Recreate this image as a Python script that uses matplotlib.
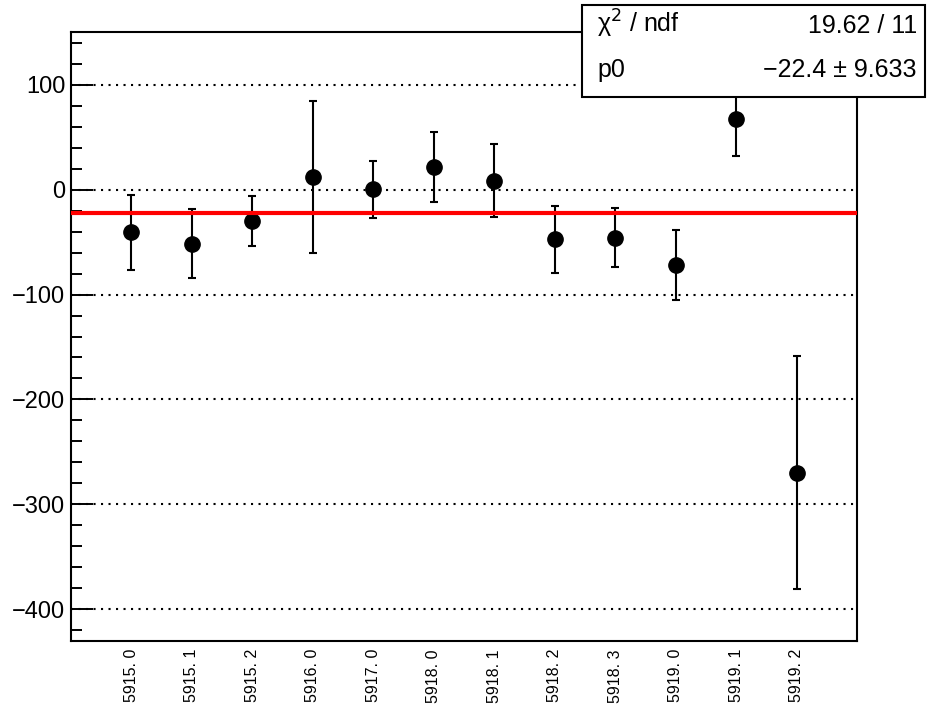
import numpy as np
import matplotlib.pyplot as plt
from matplotlib.patches import Rectangle

plt.rcParams['font.family'] = ['Liberation Sans', 'DejaVu Sans']

# run labels and measured values
runs = ["5915. 0", "5915. 1", "5915. 2", "5916. 0", "5917. 0", "5918. 0",
        "5918. 1", "5918. 2", "5918. 3", "5919. 0", "5919. 1", "5919. 2"]
values = [-40.6, -51.4, -29.8, 12.1, 0.3, 21.3, 8.6, -47.3, -46.0, -72.0, 67.3, -270.0]
errors = [35.7, 32.5, 23.5, 72.2, 27.2, 33.3, 34.9, 31.9, 28.1, 33.2, 35.2, 111.1]
p0 = -22.4
stat_names = ["\u03c7$^2$ / ndf", "p0"]
stat_values = ["19.62 / 11", "\u221222.4 \u00b1 9.633"]

fig = plt.figure(figsize=(9.37, 7.11), dpi=100)
ax = fig.add_axes([71/937, 1-640.7/711, (857-71)/937, (640.7-32.3)/711])

x = np.arange(1, len(runs)+1)
ax.axhline(p0, color='red', lw=3, zorder=4)
ax.errorbar(x, values, yerr=errors, fmt='o', color='black', ms=11,
            elinewidth=1.5, capsize=3, capthick=1.5, zorder=3)

ax.set_xlim(0, len(runs)+1)
ax.set_ylim(-430, 150)
ax.set_yticks(np.arange(-400, 101, 100))
ax.set_yticklabels([str(v).replace('-', '\u2212') for v in range(-400, 101, 100)], fontsize=17)
ax.set_yticks(np.arange(-420, 150, 20), minor=True)
ax.tick_params(axis='y', which='major', direction='in', length=16, width=1.4, pad=4)
ax.tick_params(axis='y', which='minor', direction='in', length=8, width=1.4)
ax.set_xticks(x)
ax.set_xticklabels(runs, rotation=90, fontsize=11.5)
ax.tick_params(axis='x', length=0, pad=6)

for v in range(-400, 101, 100):
    ax.axhline(v, color='black', lw=1.5, dashes=(1, 2.6), zorder=1)

for s in ax.spines.values():
    s.set_linewidth(1.5)

# stats box
fig.patches.append(Rectangle((582/937, 1-96.5/711), (925-582)/937, (96.5-5)/711,
                             transform=fig.transFigure, facecolor='white',
                             edgecolor='black', lw=1.5, zorder=10))
for i, (n, v) in enumerate(zip(stat_names, stat_values)):
    yb = 1 - (33 + 44*i)/711
    fig.text(597/937, yb, n, fontsize=18, va='baseline', ha='left', zorder=11)
    fig.text(917/937, yb, v, fontsize=18, va='baseline', ha='right', zorder=11)

fig.savefig('out.png', dpi=100)
